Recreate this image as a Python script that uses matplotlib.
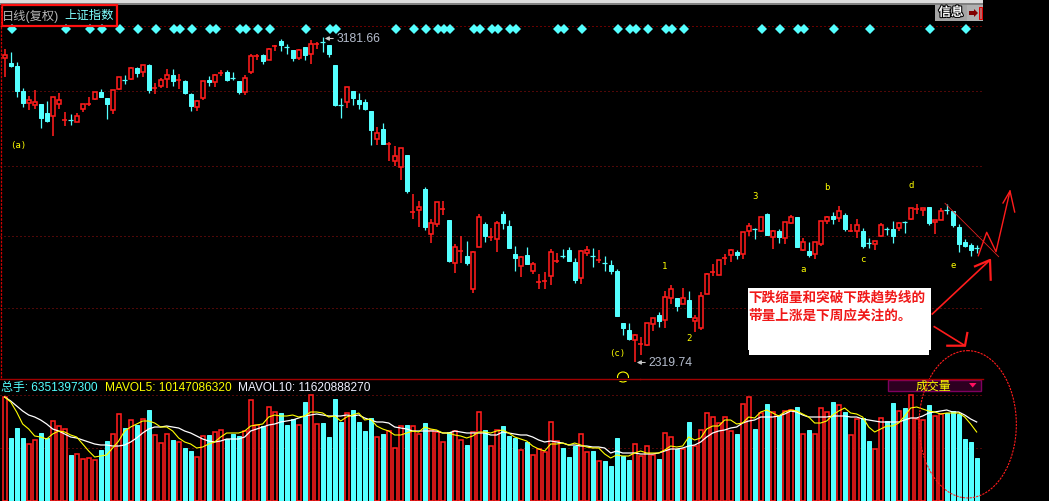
# Shanghai index daily candles with volume panel
# price values are chart levels (400 = top of panel scale), volume in bar height units

import numpy as np
import matplotlib
matplotlib.use('Agg')
import matplotlib.pyplot as plt
from matplotlib.patches import Rectangle, Ellipse, Polygon
import matplotlib.patheffects as pe

plt.rcParams['font.family'] = ['Liberation Sans', 'Noto Sans CJK SC']

highs = [350,347,337,311,303,309,295,298,302,306,287,285,286,295,302,307,310,301,309,322,324,332,332,334,335,316,321,330,330,325,319,306,299,318,323,325,329,329,327,318,324,345,345,345,351,354,360,355,349,350,352,359,357,362,354,334,301,312,308,306,300,288,272,276,257,253,251,244,205,198,212,180,197,198,179,155,163,158,148,185,177,171,178,188,179,153,143,152,137,125,127,150,146,150,152,141,149,153,151,149,143,139,130,76,76,65,62,76,81,87,108,114,101,111,108,84,107,126,135,139,145,150,149,167,176,171,182,186,169,170,177,184,182,161,157,157,178,183,187,193,186,175,180,171,161,158,176,172,178,177,178,191,195,191,192,179,191,195,188,175,160,156,154]
lows = [322,332,302,292,289,290,271,277,263,290,273,274,277,287,293,299,302,280,285,309,315,319,322,322,306,305,311,311,313,310,305,288,288,299,313,312,323,318,319,305,304,325,339,335,339,348,348,345,338,339,339,335,350,347,342,293,281,291,294,290,289,254,254,255,238,233,219,206,180,172,169,156,172,184,137,126,136,134,106,152,157,158,147,170,151,128,122,135,125,110,110,114,136,141,138,116,115,143,132,136,128,125,83,64,59,37,44,53,68,72,71,95,88,95,82,67,69,105,123,124,134,137,140,140,163,160,167,164,150,156,155,175,152,148,142,140,153,175,175,177,168,167,161,151,151,149,162,164,156,168,166,179,185,183,174,165,179,185,172,147,152,143,146]
opens = [341,336,333,308,296,294,295,286,283,295,279,279.5,277,290,295,300,307,301,289,310,319.5,320,331,327,334,311,313,320,324,318.5,318,305,292,301,319,317,325.5,327,321.5,318,307,327,343,344,339,353,358,352.5,349,341,352,345,355,358,354,334,294.5,297,308,299,297,288,260,270,255,238,232,244,187,189,210,165,175,190,179,136,148,143,110,152,175,162,160,185,173,145,133,144,128,117,118,123,138,143.5,149,137,121,146,143.5,139,136.5,134,128,76,69,59,55,54,75,84,79,101,101,95,99,78,71,105,127,124,141,144,147,145,168,170,168,185,162,168,161,176,182,149,148,145,155,178,183,181,184,168,168,168,156.5,155,163,171,170,171,177,180,190,189,192,177,179,189.5,188,172,157,154,151]
closes = [344,333,308,296,299,297,281,278,302,299,280,279,283,295,296,307,302,295,309,322,319,331,326,334,309,312,319,324,318,319,306,293,298,318,317,324,326,319,321,307,321,343,343.5,338,350,354,354,352,341,349,344,355,356,357,345,294,294,312,301,295,290,269,266,255,256,243,251,208,188,192,172,176,197,191,138,152,149,136,147,182,163,163,176,176,151,141,142,135,135,118,119,147,139,143,138,119,148,149,143,140,136,128,83,71,60,64,55.5,76,81,78,102,110,93,101,82,81,103,125,128,139,142,149,144,167,173,169.5,182,164,168,162,177,182,152,157,144,157,178,182,180,188,170,169,174,153,156,158,174,170,163,176,176.5,191,191,191,176,179,188,189,174,155,153,149,150.5]

# volume bars and the two moving averages, same height units
volumes = [104,63,73,63,57,61,68,63,80,75,72,46,47,42,43,41,51,60,67,87,73,81,76,82,91,66,58,67,61,59,53,50,44,65,66,69,71,62,67,65,70,101,76,75,94,89,88,76,82,76,99,106,77,78,64,102,79,88,91,79,70,83,64,67,70,53,75,76,75,67,78,71,69,59,69,70,61,56,69,89,71,55,71,75,65,63,51,59,46,52,49,79,60,53,44,55,67,49,50,40,40,35,63,45,41,57,45,55,46,42,68,64,52,52,79,55,71,88,84,78,84,70,67,97,104,72,88,97,89,86,90,91,94,67,71,67,93,89,99,96,89,66,82,83,60,52,83,80,98,90,93,106,82,81,96,85,87,88,90,87,62,59,43]
mavol5 = [104,99,89,77,72,65,64,62,67,70,69,66,64,57,50,44,45,46,53,60,70,74,77,80,80,78,74,74,70,63,59,57,53,54,57,59,64,68,68,68,70,75,76,77,84,86,85,85,86,84,85,89,89,88,84,85,80,84,86,88,81,82,75,72,70,66,66,68,70,69,74,72,71,68,68,66,65,63,65,69,69,68,70,71,68,64,62,60,55,52,50,57,57,58,56,58,56,54,53,53,47,43,46,45,45,48,50,48,48,48,51,55,54,55,64,61,63,72,75,75,81,81,77,78,84,83,89,91,88,85,89,91,90,87,84,78,78,80,86,90,93,88,87,84,74,69,72,75,75,78,85,93,94,92,90,89,87,88,88,88,84,77,69]
mavol10 = [104,100,95,90,86,84,81,77,72,70,67,64,63,61,59,57,56,56,55,55,56,59,63,68,72,74,74,75,74,73,70,68,65,62,60,59,60,62,62,62,64,70,72,74,76,77,79,80,81,83,85,86,87,86,85,85,85,86,85,86,83,81,79,79,78,74,73,72,70,70,70,70,70,68,68,70,69,68,68,68,68,66,66,69,68,67,66,66,64,61,59,60,59,58,56,56,55,55,54,54,53,48,50,48,48,48,47,47,47,48,50,52,52,53,55,56,59,64,68,70,71,73,74,78,80,81,84,84,84,85,87,90,89,86,84,84,84,84,85,85,85,84,84,82,81,80,79,79,79,79,81,83,83,85,88,89,90,91,89,89,86,82,79]

# row of small diamond marks, candle numbers
signal_days = [1,10,14,16,19,22,25,28,29,31,34,35,39,40,42,44,50,54,55,65,68,70,72,73,74,78,79,81,82,84,85,92,93,96,102,104,105,107,110,111,113,126,129,132,133,138,144,154,160]

grid_levels = [308.5, 233.5, 163, 91.5]
top_grid_level = 373.5
vol_grid_levels = [106, 53]

wave_labels = ['(a)', '(c)', '1', '2', '3', 'b', 'd', 'a', 'c', 'e']
wave_x = [18, 617, 665, 689, 755, 827, 911, 803, 863, 953]
wave_y = [146, 354, 267, 339, 197, 188, 186, 270, 260, 266]

RED = '#ff1c1c'
CYAN = '#54ffff'
YELLOW = '#ffff00'
GRID = '#a01010'
PX = 0.72  # one pixel line at dpi 100
RED_LW = 1.15

W, H = 1049, 502
fig = plt.figure(figsize=(W/100, H/100), dpi=100, facecolor='black')

# panel helpers: candle i sits at pixel 4.67 + 6*i
x0 = -4.67/6
x1 = (W-4.67)/6
xend = (983-4.67)/6

ax = fig.add_axes([0, (H-379)/H, 1, 379/H], facecolor='black')
ax.set_xlim(x0, x1)
ax.set_ylim(21, 400)
ax.axis('off')

axv = fig.add_axes([0, 0, 1, (H-379)/H], facecolor='black')
axv.set_xlim(x0, x1)
axv.set_ylim(0, 123)
axv.axis('off')

days = np.arange(len(closes))
o = np.array(opens, dtype=float)
c = np.array(closes, dtype=float)
up = c >= o
col = np.where(up, RED, CYAN)
wick_lw = np.where(up, RED_LW, 0.9)

# grid
dots = (0, (1, 3))
ax.hlines(grid_levels, x0, xend, color=GRID, lw=PX, linestyles=[dots])
ax.hlines(top_grid_level, x0, xend, color='#d00000', lw=PX, linestyles=[dots])
axv.hlines(vol_grid_levels, x0, xend, color=GRID, lw=PX, linestyles=[dots], zorder=1)

# candles
ax.vlines(days, lows, highs, colors=col, lw=wick_lw, zorder=2)
body = np.abs(c-o)
doji = body <= 1
bottom = np.minimum(o, c)
ax.bar(days[up & ~doji], body[up & ~doji], bottom=bottom[up & ~doji], width=4/6,
       facecolor='black', edgecolor=RED, lw=RED_LW, zorder=3)
ax.bar(days[~up & ~doji], body[~up & ~doji], bottom=bottom[~up & ~doji], width=4/6,
       facecolor=CYAN, edgecolor=CYAN, lw=PX, zorder=3)
ax.hlines(((o+c)/2)[doji], days[doji]-0.42, days[doji]+0.42, colors=col[doji], lw=wick_lw[doji], zorder=3)

ax.plot(np.array(signal_days)+0.17, np.full(len(signal_days), 370.5), ls='', marker='D', ms=4.6, color=CYAN, mew=0, zorder=4)

# volume
vol = np.array(volumes, dtype=float)
axv.bar(days[up], vol[up], width=4/6, facecolor='black', edgecolor=RED, lw=RED_LW, zorder=2)
axv.bar(days[~up], vol[~up], width=4/6, facecolor=CYAN, edgecolor=CYAN, lw=PX, zorder=2)
axv.plot(days, mavol10, color='white', lw=0.9, zorder=3)
axv.plot(days, mavol5, color=YELLOW, lw=0.8, zorder=4)

# overlay in picture coordinates for frame, notes and hand drawn marks
top = fig.add_axes([0, 0, 1, 1])
top.set_xlim(0, W)
top.set_ylim(H, 0)
top.axis('off')
top.patch.set_alpha(0)

top.add_patch(Rectangle((0, 0), 983, 4, color='#dcdcdc', lw=0))
top.add_patch(Rectangle((0, 4), 983, 1.5, color='#808080', lw=0))
top.plot([1, 1], [5, 379], color='#d00000', lw=0.9, ls=(0, (2, 1)))
top.plot([0, 983], [379.5, 379.5], color='#a00000', lw=1)

# title box
top.add_patch(Rectangle((2, 6), 115, 20.5, fill=False, edgecolor='#ff1010', lw=1.6))
top.text(2, 16, '日线(复权)', color='#b8b8b8', fontsize=8.8, va='center')
top.text(64, 16, '上证指数', color='#7fffff', fontsize=8.9, va='center')

# info buttons
top.add_patch(Rectangle((935, 6), 32, 16, color='#a4a4a4', lw=0))
top.add_patch(Rectangle((967, 6), 16, 16, color='#b0b0b0', lw=0))
top.text(951, 14, '信息', color='white', fontsize=9, ha='center', va='center', fontweight='bold',
         path_effects=[pe.withStroke(linewidth=1.5, foreground='black')])
top.add_patch(Polygon([(969, 12), (974, 12), (974, 10), (978, 14), (974, 18), (974, 16), (969, 16)], color='#800000', lw=0))
top.add_patch(Rectangle((978.5, 8), 3, 12, facecolor='#c06060', edgecolor='#e00000', lw=0.7))

# high and low notes
top.text(337, 39.5, '3181.66', color='#b4bccc', fontsize=8.8, va='center')
top.annotate('', xy=(322, 39.5), xytext=(336, 39.5), arrowprops=dict(arrowstyle='-|>', color='#c8c8c8', lw=0.8, mutation_scale=6))
top.text(648, 363.5, '2319.74', color='#b4bccc', fontsize=8.8, va='center')
top.annotate('', xy=(634, 363.5), xytext=(648, 363.5), arrowprops=dict(arrowstyle='-|>', color='#c8c8c8', lw=0.8, mutation_scale=6))

# wave counts
for lab, lx, ly in zip(wave_labels, wave_x, wave_y):
    top.text(lx, ly, lab, color=YELLOW, fontsize=6.5, ha='center', va='center', family='DejaVu Sans Mono')
top.add_patch(Ellipse((623, 378), 11, 10, fill=False, edgecolor=YELLOW, lw=0.8))
top.add_patch(Rectangle((610, 379), 30, 3, color='black', lw=0, zorder=3))
top.plot([610, 640], [379.5, 379.5], color='#a00000', lw=1, zorder=4)

# volume header
top.text(1, 388, '总手: 6351397300', color=CYAN, fontsize=8.6, va='center')
top.text(105, 388, 'MAVOL5: 10147086320', color=YELLOW, fontsize=8.6, va='center')
top.text(238, 388, 'MAVOL10: 11620888270', color='#f0f0ff', fontsize=8.6, va='center')

# volume tag
top.add_patch(Rectangle((888, 380.5), 93, 11.5, facecolor='#2c0020', edgecolor='#800060', lw=1))
top.text(933, 386.5, '成交量', color=YELLOW, fontsize=8.6, ha='center', va='center')
top.add_patch(Polygon([(969, 384), (976.5, 384), (972.7, 388.5)], color='#ff1060', lw=0))

# note box
top.add_patch(Rectangle((749, 351), 180, 5, color='white', lw=0))
top.add_patch(Rectangle((748, 289), 183, 62, color='white', lw=0))
top.text(748.5, 297.5, '下跌缩量和突破下跌趋势线的', color='#f01818', fontsize=9.8, fontweight='bold', va='center')
top.text(748.5, 316, '带量上涨是下周应关注的。', color='#f01818', fontsize=9.8, fontweight='bold', va='center')

# hand drawn marks
trend_x, trend_y = [945, 998.7], [204.3, 257.7]
zig_x = [978.3, 986.7, 996, 1010]
zig_y = [256.7, 233.3, 252.7, 192]
head1_x, head1_y = [1003, 1010, 1014.7], [204, 192, 213]
arrow2_x, arrow2_y = [932.3, 990], [315, 261]
head2_x, head2_y = [975, 990, 990.7], [267.3, 261, 280.7]
arrow3_x, arrow3_y = [934.3, 965], [327.7, 346.7]
head3_x, head3_y = [947.3, 965, 967.3], [346.7, 346.7, 334]

top.plot(trend_x, trend_y, color='#e02020', lw=0.6)
top.plot(zig_x, zig_y, color=RED, lw=1)
top.plot(head1_x, head1_y, color=RED, lw=1)
top.plot(arrow2_x, arrow2_y, color=RED, lw=1.2)
top.plot(head2_x, head2_y, color=RED, lw=1.6)
top.plot(arrow3_x, arrow3_y, color=RED, lw=1.2)
top.plot(head3_x, head3_y, color=RED, lw=1.6)
top.add_patch(Ellipse((967.7, 425.3), 97.3, 147.3, fill=False, edgecolor=RED, lw=0.8, ls=(0, (2, 1))))

fig.savefig('out.png', dpi=100, facecolor='black')
